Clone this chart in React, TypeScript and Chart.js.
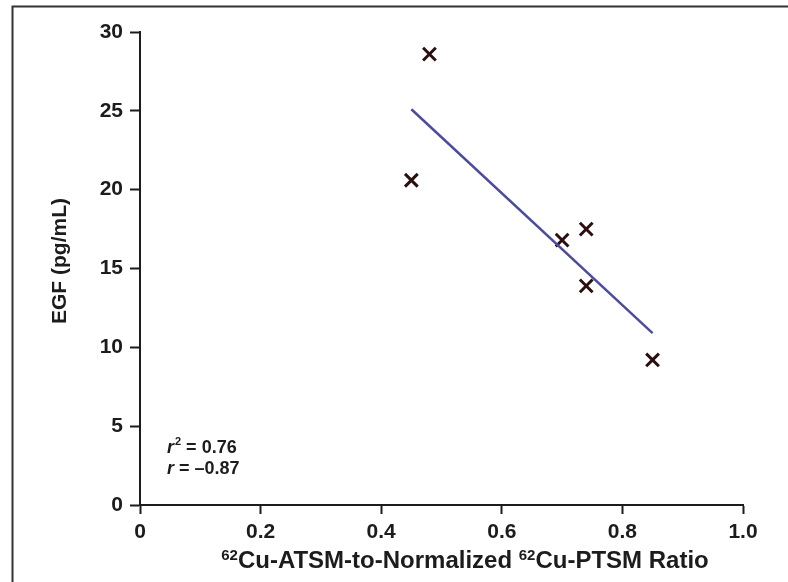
import React, { useEffect, useRef } from "react";
import { Chart, registerables } from "chart.js";

Chart.register(...registerables);

const ratioX = [0.48, 0.45, 0.70, 0.74, 0.74, 0.85];
const egfY = [28.6, 20.6, 16.8, 17.5, 13.9, 9.2];
const fitX = [0.45, 0.85];
const fitY = [25.1, 10.9];
const xTickLabels = ["0", "0.2", "0.4", "0.6", "0.8", "1.0"];
const yTickLabels = ["0", "5", "10", "15", "20", "25", "30"];

const FONT = '"Liberation Sans", Arial, Helvetica, sans-serif';
const INK = "#1c1c1c";

const overlayPlugin = {
  id: "overlay",
  afterDraw(chart: any) {
    const ctx = chart.ctx as CanvasRenderingContext2D;
    ctx.save();
    // frame
    ctx.strokeStyle = "#333";
    ctx.lineWidth = 2;
    ctx.beginPath();
    ctx.moveTo(12.5, 600);
    ctx.lineTo(12.5, 6.5);
    ctx.lineTo(800, 6.5);
    ctx.stroke();

    // y title
    ctx.fillStyle = INK;
    ctx.font = `bold 21px ${FONT}`;
    ctx.textAlign = "center";
    ctx.textBaseline = "middle";
    ctx.translate(60, 261);
    ctx.rotate(-Math.PI / 2);
    ctx.fillText("EGF (pg/mL)", 0, 0);
    const dpr = chart.currentDevicePixelRatio || 1;
    ctx.setTransform(dpr, 0, 0, dpr, 0, 0);

    // x title with superscripts
    const parts: [string, boolean][] = [
      ["62", true],
      ["Cu-ATSM-to-Normalized ", false],
      ["62", true],
      ["Cu-PTSM Ratio", false],
    ];
    const big = `bold 24px ${FONT}`;
    const small = `bold 15px ${FONT}`;
    let total = 0;
    for (const [t, sup] of parts) {
      ctx.font = sup ? small : big;
      total += ctx.measureText(t).width;
    }
    let x = 465 - total / 2;
    const base = 568;
    ctx.textAlign = "left";
    ctx.textBaseline = "alphabetic";
    for (const [t, sup] of parts) {
      ctx.font = sup ? small : big;
      ctx.fillText(t, x, sup ? base - 8 : base);
      x += ctx.measureText(t).width;
    }

    // annotation
    const ax = 167;
    ctx.font = `italic bold 18px ${FONT}`;
    ctx.fillText("r", ax, 453);
    let w = ctx.measureText("r").width;
    ctx.font = `bold 11px ${FONT}`;
    ctx.fillText("2", ax + w + 1, 445);
    const w2 = ctx.measureText("2").width;
    ctx.font = `bold 18px ${FONT}`;
    ctx.fillText(" = 0.76", ax + w + w2 + 1, 453);

    ctx.font = `italic bold 18px ${FONT}`;
    ctx.fillText("r", ax, 474);
    w = ctx.measureText("r").width;
    ctx.font = `bold 18px ${FONT}`;
    ctx.fillText(" = \u20130.87", ax + w, 474);
    ctx.restore();
  },
};

export default function App() {
  const ref = useRef<HTMLCanvasElement | null>(null);
  useEffect(() => {
    if (!ref.current) return;
    const chart = new Chart(ref.current, {
      type: "scatter",
      data: {
        datasets: [
          {
            type: "line",
            data: fitX.map((v, i) => ({ x: v, y: fitY[i] })),
            borderColor: "#4b4ba0",
            borderWidth: 2.5,
            pointRadius: 0,
            fill: false,
          } as any,
          {
            data: ratioX.map((v, i) => ({ x: v, y: egfY[i] })),
            pointStyle: "crossRot",
            pointRadius: 9,
            borderWidth: 3,
            borderColor: "#2b0f10",
            backgroundColor: "#2b0f10",
          },
        ],
      },
      options: {
        animation: false,
        responsive: false,
        devicePixelRatio: 1,
        layout: { padding: { left: 0, top: 32, right: 45, bottom: 0 } },
        plugins: {
          legend: { display: false },
          tooltip: { enabled: false },
        },
        scales: {
          x: {
            type: "linear",
            min: 0,
            max: 1,
            afterFit(scale: any) {
              scale.height = 77;
            },
            ticks: {
              stepSize: 0.2,
              padding: 6,
              color: INK,
              font: { family: FONT, size: 21, weight: "bold" },
              callback: (_v: any, i: number) => xTickLabels[i],
            },
            grid: {
              drawOnChartArea: false,
              drawTicks: true,
              tickLength: 9,
              tickWidth: 2,
              tickColor: INK,
            },
            border: { display: true, color: INK, width: 2 },
          },
          y: {
            type: "linear",
            min: 0,
            max: 30,
            afterFit(scale: any) {
              scale.width = 140;
            },
            ticks: {
              stepSize: 5,
              padding: 7,
              color: INK,
              font: { family: FONT, size: 21, weight: "bold" },
              callback: (_v: any, i: number) => yTickLabels[i],
            },
            grid: {
              drawOnChartArea: false,
              drawTicks: true,
              tickLength: 10,
              tickWidth: 2,
              tickColor: INK,
            },
            border: { display: true, color: INK, width: 2 },
          },
        },
      } as any,
      plugins: [overlayPlugin],
    });
    return () => chart.destroy();
  }, []);
  return (
    <div style={{ position: "absolute", left: 0, top: 0, width: 788, height: 582, overflow: "hidden", background: "#fff" }}>
      <canvas ref={ref} width={788} height={582} style={{ display: "block" }} />
    </div>
  );
}
